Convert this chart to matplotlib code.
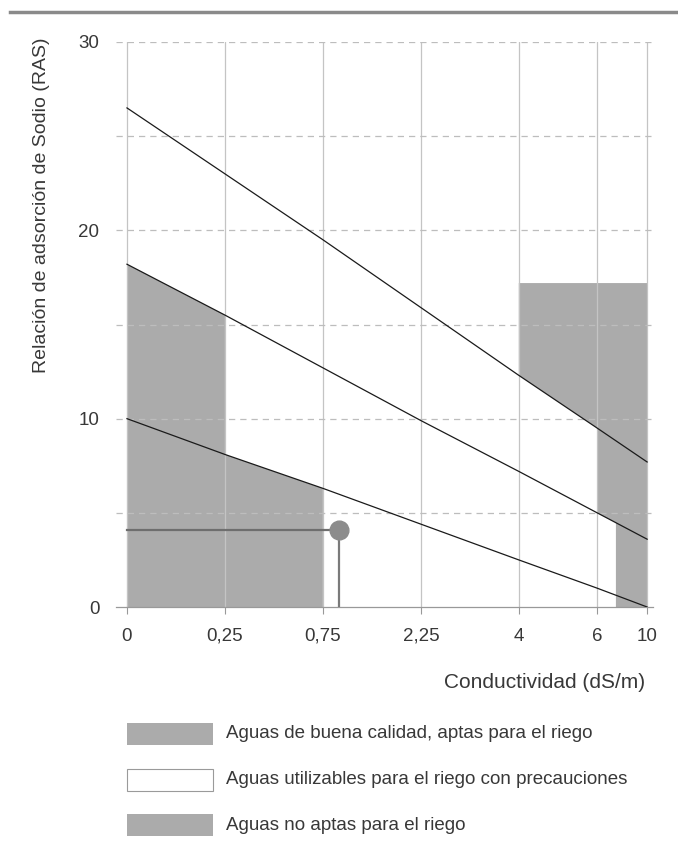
import numpy as np
import matplotlib
matplotlib.use('Agg')
import matplotlib.pyplot as plt
from matplotlib.patches import Rectangle
from matplotlib.lines import Line2D

plt.rcParams['font.family'] = ['Liberation Sans', 'DejaVu Sans']

# --- datos ---
cond_ticks = [0, 0.25, 0.75, 2.25, 4, 6, 10]
tick_labels = ['0', '0,25', '0,75', '2,25', '4', '6', '10']
tick_pos = [0, 1, 2, 3, 4, 4.8, 5.31]          # posicion relativa de cada marca en el eje

linea_sup = [26.5, 23.0, 19.5, 15.9, 12.3, 9.5, 7.7]
linea_med = [18.2, 15.5, 12.7, 9.9, 7.2, 5.0, 3.6]
linea_inf = [10.0, 8.1, 6.3, 4.4, 2.5, 1.0, 0.0]

tope_no_apta = 17.2
limite_no_apta = 7.5

muestra_cond = 1.0
muestra_ras = 4.1

leyenda = ['Aguas de buena calidad, aptas para el riego',
           'Aguas utilizables para el riego con precauciones',
           'Aguas no aptas para el riego']

GRIS = '#ababab'
TXT = '#383838'

# escala piecewise-lineal (el eje no es lineal ni logaritmico)
val_nodes = np.array([-1.0] + cond_ticks + [14.0])
pos_nodes = np.array([-1.0] + tick_pos + [tick_pos[-1] + 0.51])


def forward(x):
    return np.interp(x, val_nodes, pos_nodes)


def inverse(p):
    return np.interp(p, pos_nodes, val_nodes)


fig = plt.figure(figsize=(6.78, 8.49), dpi=100)
W, H = 678, 849
ax = fig.add_axes([116 / W, 1 - 607 / H, (653 - 116) / W, (607 - 42) / H])
ax.set_xscale('function', functions=(forward, inverse))
ax.set_xlim(-0.112, 10.47)
ax.set_ylim(0, 30)

# zonas grises
mid_at = lambda c: np.interp(forward(c), tick_pos, linea_med)
gx = [0, 0, 0.25, 0.25, 0.75, 0.75]
gy = [0, linea_med[0], linea_med[1], linea_inf[1], linea_inf[2], 0]
ax.fill(gx, gy, color=GRIS, lw=0, zorder=1)

nx = [4, 10, 10, limite_no_apta, limite_no_apta, 6, 6, 4]
ny = [tope_no_apta, tope_no_apta, 0, 0, mid_at(limite_no_apta), linea_med[5],
      linea_sup[5], linea_sup[4]]
ax.fill(nx, ny, color=GRIS, lw=0, zorder=1)

# rectas
for serie in (linea_sup, linea_med, linea_inf):
    ax.plot(cond_ticks, serie, color='#1a1a1a', lw=0.9, zorder=3)

# muestra
ax.plot([0, muestra_cond], [muestra_ras, muestra_ras], color='#6e6e6e', lw=1.6, zorder=3)
ax.plot([muestra_cond, muestra_cond], [0, muestra_ras], color='#7a7a7a', lw=1.6, zorder=3)
ax.plot([muestra_cond], [muestra_ras], 'o', ms=13.5, color='#8c8c8c', zorder=4)

# rejilla
for c in cond_ticks:
    ax.axvline(c, color='#c4c4c4', lw=0.9, zorder=2.5)
for yv in range(5, 31, 5):
    ax.axhline(yv, color='#bdbdbd', lw=0.9, ls=(0, (5, 4)), zorder=2.5)

ax.set_xticks(cond_ticks)
ax.set_xticklabels(tick_labels)
ax.set_yticks([0, 10, 20, 30])
ax.tick_params(axis='x', length=5, color='#999999', labelsize=13.5, labelcolor=TXT, pad=10)
ax.tick_params(axis='y', length=0, labelsize=13.5, labelcolor=TXT, pad=12)
for s in ('top', 'right', 'left'):
    ax.spines[s].set_visible(False)
ax.spines['bottom'].set_color('#999999')
ax.spines['bottom'].set_linewidth(0.9)

fig.text(645 / W, 1 - 683 / H, 'Conductividad (dS/m)', ha='right', va='center',
         fontsize=15, color=TXT)
fig.text(42 / W, 1 - 205 / H, 'Relación de adsorción de Sodio (RAS)', rotation=90,
         ha='center', va='center', fontsize=14, color=TXT)

# linea superior de pagina
fig.add_artist(Line2D([10 / W, 1], [1 - 12 / H] * 2, color='#8a8a8a', lw=2.5))

# leyenda
rows = [734, 780, 825]
faces = [GRIS, 'white', GRIS]
for yc, fc, txt in zip(rows, faces, leyenda):
    ec = '#9a9a9a' if fc == 'white' else 'none'
    fig.add_artist(Rectangle((127 / W, 1 - (yc + 11) / H), 86 / W, 22 / H,
                             transform=fig.transFigure, facecolor=fc, edgecolor=ec, lw=0.8))
    fig.text(226 / W, 1 - yc / H, txt, ha='left', va='center', fontsize=13.5, color=TXT)

fig.savefig('out.png', dpi=100)
